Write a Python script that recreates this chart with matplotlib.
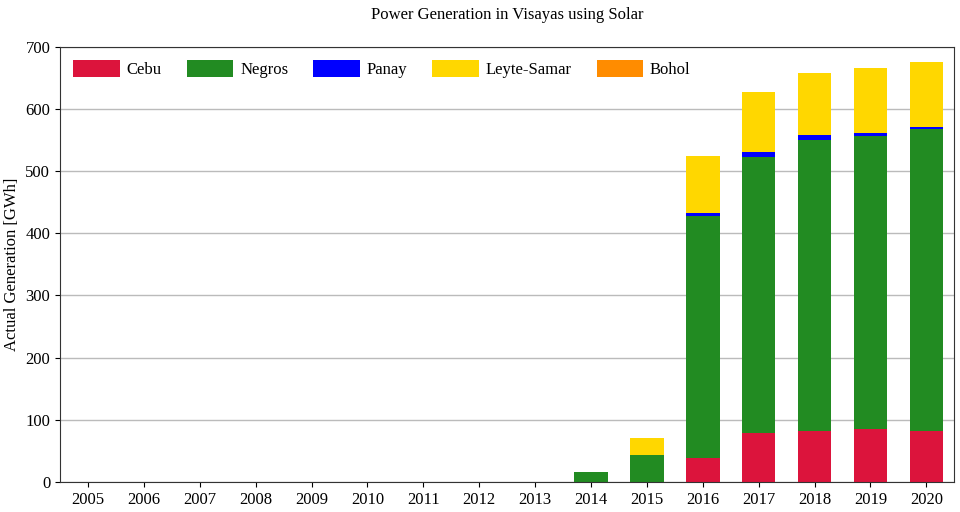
import matplotlib
matplotlib.use("Agg")
import matplotlib.pyplot as plt
import numpy as np

plt.rcParams['font.family'] = ['Liberation Serif', 'DejaVu Serif']

years = [str(y) for y in range(2005, 2021)]
# GWh per island group, 2005..2020
cebu = [0, 0, 0, 0, 0, 0, 0, 0, 0, 0, 0, 39, 78, 82, 85, 82]
negros = [0, 0, 0, 0, 0, 0, 0, 0, 0, 16, 43, 389, 445, 468, 472, 486]
panay = [0, 0, 0, 0, 0, 0, 0, 0, 0, 0, 0, 5, 8, 8, 5, 3]
leyte_samar = [0, 0, 0, 0, 0, 0, 0, 0, 0, 0, 28, 92, 97, 100, 104, 105]
bohol = [0] * 16

series = [("Cebu", cebu, "#dc143c"),
          ("Negros", negros, "#228b22"),
          ("Panay", panay, "#0000ff"),
          ("Leyte-Samar", leyte_samar, "#ffd700"),
          ("Bohol", bohol, "#ff8c00")]

fig, ax = plt.subplots(figsize=(9.6, 5.12), dpi=100)
fig.subplots_adjust(left=0.0625, right=0.994, top=0.908, bottom=0.059)

x = np.arange(len(years))
bottom = np.zeros(len(years))
for name, vals, col in series:
    vals = np.array(vals, dtype=float)
    ax.bar(x, vals, width=0.6, bottom=bottom, color=col, label=name, zorder=2)
    bottom += vals

ax.set_xticks(x, years, fontsize=12)
ax.tick_params(axis="y", labelsize=12)
ax.set_xlim(-0.5, 15.5)
ax.set_ylim(0, 700)
ax.set_yticks(range(0, 701, 100))
ax.grid(axis="y", color="#bbbbbb", linewidth=1, zorder=0)
ax.set_axisbelow(True)
ax.set_ylabel("Actual Generation [GWh]", fontsize=12)
ax.set_title("Power Generation in Visayas using Solar", fontsize=12, pad=20)
for s in ax.spines.values():
    s.set_color("#333333")

ax.legend(loc="upper left", ncol=5, frameon=False, fontsize=12,
          handlelength=2.8, handleheight=1.15, handletextpad=0.4,
          columnspacing=1.5, borderaxespad=0.5, borderpad=0.3)

plt.savefig("out.png", dpi=100)
